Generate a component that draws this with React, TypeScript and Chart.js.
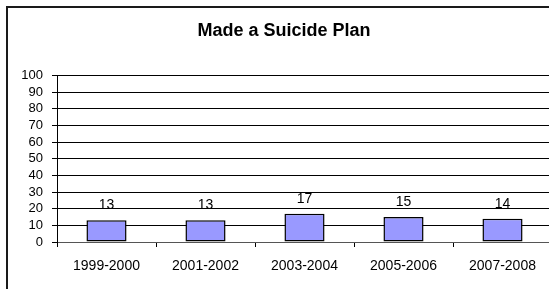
import React, { useEffect, useRef } from "react";
import { Chart, registerables } from "chart.js";

Chart.register(...registerables);

const title = "Made a Suicide Plan";
const categories = ["1999-2000", "2001-2002", "2003-2004", "2005-2006", "2007-2008"];
const values = [13, 13, 17, 15, 14];
const yMin = 0;
const yMax = 100;
const yStep = 10;

const FONT = "'Liberation Sans', Arial, Helvetica, sans-serif";

const framePlugin = {
  id: "frame",
  beforeDraw(chart: any) {
    const ctx = chart.ctx;
    ctx.save();
    ctx.fillStyle = "#ffffff";
    ctx.fillRect(0, 0, chart.width, chart.height);
    ctx.fillStyle = "#1a1a1a";
    ctx.fillRect(6, 6, 2, chart.height);
    ctx.fillRect(6, 6, chart.width, 2);
    ctx.restore();
  },
};

const valueLabelPlugin = {
  id: "valueLabels",
  afterDatasetsDraw(chart: any) {
    const ctx = chart.ctx;
    const meta = chart.getDatasetMeta(0);
    const data = chart.data.datasets[0].data as number[];
    ctx.save();
    ctx.font = `14px ${FONT}`;
    ctx.fillStyle = "#000";
    ctx.textAlign = "center";
    ctx.textBaseline = "middle";
    meta.data.forEach((el: any, i: number) => {
      ctx.fillText(String(data[i]), el.x, el.y - 15);
    });
    ctx.restore();
  },
};

export default function App() {
  const ref = useRef<HTMLCanvasElement | null>(null);

  useEffect(() => {
    if (!ref.current) return;
    const chart = new Chart(ref.current, {
      type: "bar",
      data: {
        labels: categories,
        datasets: [
          {
            data: values,
            backgroundColor: "#9999ff",
            borderColor: "#000000",
            borderWidth: 1.5,
            borderSkipped: false,
            categoryPercentage: 1,
            barPercentage: 0.405,
          },
        ],
      },
      options: {
        responsive: false,
        animation: false,
        devicePixelRatio: 1,
        layout: { padding: { left: 16, right: 0, top: 0, bottom: 0 } },
        plugins: {
          legend: { display: false },
          tooltip: { enabled: false },
          title: {
            display: true,
            text: title,
            color: "#000",
            font: { family: FONT, size: 18, weight: "bold", lineHeight: 1.2 },
            padding: { top: 20, bottom: 34 },
          },
        },
        scales: {
          x: {
            grid: {
              display: true,
              drawOnChartArea: false,
              drawTicks: true,
              tickLength: 5,
              color: "#000",
              offset: true,
            },
            border: { display: true, color: "#555", width: 1 },
            ticks: {
              color: "#000",
              font: { family: FONT, size: 14 },
              padding: 11,
              maxRotation: 0,
              autoSkip: false,
            },
            afterFit(scale: any) {
              scale.height = 47;
            },
          },
          y: {
            min: yMin,
            max: yMax,
            grid: {
              color: "#000",
              lineWidth: 1,
              drawTicks: true,
              tickLength: 5,
            },
            border: { display: true, color: "#000", width: 1 },
            ticks: {
              stepSize: yStep,
              autoSkip: false,
              color: "#000",
              font: { family: FONT, size: 13 },
              padding: 9,
            },
            afterFit(scale: any) {
              scale.width = 41;
            },
          },
        },
      },
      plugins: [framePlugin, valueLabelPlugin],
    });
    return () => chart.destroy();
  }, []);

  return (
    <div
      style={{
        position: "absolute",
        left: 0,
        top: 0,
        width: 549,
        height: 289,
        overflow: "hidden",
        background: "#fff",
      }}
    >
      <canvas ref={ref} width={552} height={289} style={{ display: "block", width: 552, height: 289 }} />
    </div>
  );
}
